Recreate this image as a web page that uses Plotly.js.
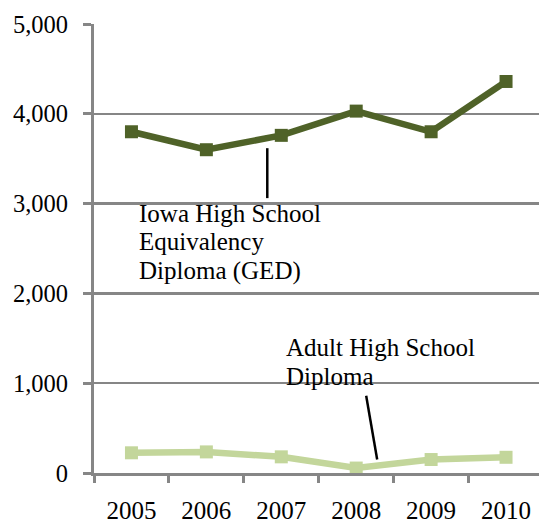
<!DOCTYPE html>
<html>
<head>
<meta charset="utf-8">
<script src="https://cdn.plot.ly/plotly-3.0.1.min.js"></script>
<style>html,body{margin:0;padding:0;background:#fff;overflow:hidden;}</style>
</head>
<body>
<div id="chart" style="width:539px;height:524px;"></div>
<script>
const years = ["2005", "2006", "2007", "2008", "2009", "2010"];
const gedValues = [3800, 3600, 3760, 4030, 3800, 4360];
const adultValues = [225, 235, 180, 55, 150, 175];
const yTickValues = [0, 1000, 2000, 3000, 4000, 5000];
const yTickLabels = ["0", "1,000", "2,000", "3,000", "4,000", "5,000"];
const gedLabelLines = ["Iowa High School", "Equivalency", "Diploma (GED)"];
const adultLabelLines = ["Adult High School", "Diploma"];

const gray = "#868686";
const font = {family: "Liberation Serif, serif", size: 25, color: "#000"};

const traces = [
  {
    x: years, y: gedValues, type: "scatter", mode: "lines+markers",
    line: {color: "#4F6228", width: 6.5},
    marker: {symbol: "square", size: 13, color: "#4F6228"},
    hoverinfo: "skip"
  },
  {
    x: years, y: adultValues, type: "scatter", mode: "lines+markers",
    line: {color: "#C3D69B", width: 6.5},
    marker: {symbol: "square", size: 13, color: "#C3D69B"},
    hoverinfo: "skip"
  }
];

function labelLines(lines, x, y) {
  return lines.map((t, i) => ({
    text: t, xref: "x", yref: "y", x: x, y: y, xanchor: "left", yanchor: "top",
    yshift: -i * 28.5, align: "left", showarrow: false, font: font
  }));
}

const layout = {
  width: 539, height: 524,
  margin: {l: 93.5, r: 0, t: 23.5, b: 50.5},
  paper_bgcolor: "#fff", plot_bgcolor: "#fff",
  showlegend: false,
  font: font,
  xaxis: {
    type: "category",
    range: [-0.5, 5.44],
    showgrid: false, zeroline: false,
    showline: true, linecolor: gray, linewidth: 3,
    ticks: "outside", tickson: "boundaries", ticklen: 7, tickwidth: 3, tickcolor: gray,
    tickfont: font, ticklabelstandoff: 13
  },
  yaxis: {
    range: [0, 5000],
    tickvals: yTickValues, ticktext: yTickLabels,
    showgrid: true, gridcolor: gray, gridwidth: 2.5,
    zeroline: false,
    showline: true, linecolor: gray, linewidth: 3,
    ticks: "outside", ticklen: 8, tickwidth: 3, tickcolor: gray,
    tickfont: {family: font.family, size: 24.5, color: "#000"}, ticklabelstandoff: 10
  },
  shapes: [
    {type: "line", xref: "x", yref: "y", x0: 1.813, x1: 1.813, y0: 3617, y1: 3061,
     line: {color: "#000", width: 2.5}},
    {type: "line", xref: "x", yref: "y", x0: 3.133, x1: 3.28, y0: 861, y1: 150,
     line: {color: "#000", width: 2.5}}
  ],
  annotations: [].concat(
    labelLines(gedLabelLines, 0.08, 3065),
    labelLines(adultLabelLines, 2.04, 1570)
  )
};

Plotly.newPlot("chart", traces, layout, {displayModeBar: false, staticPlot: true});
</script>
</body>
</html>
